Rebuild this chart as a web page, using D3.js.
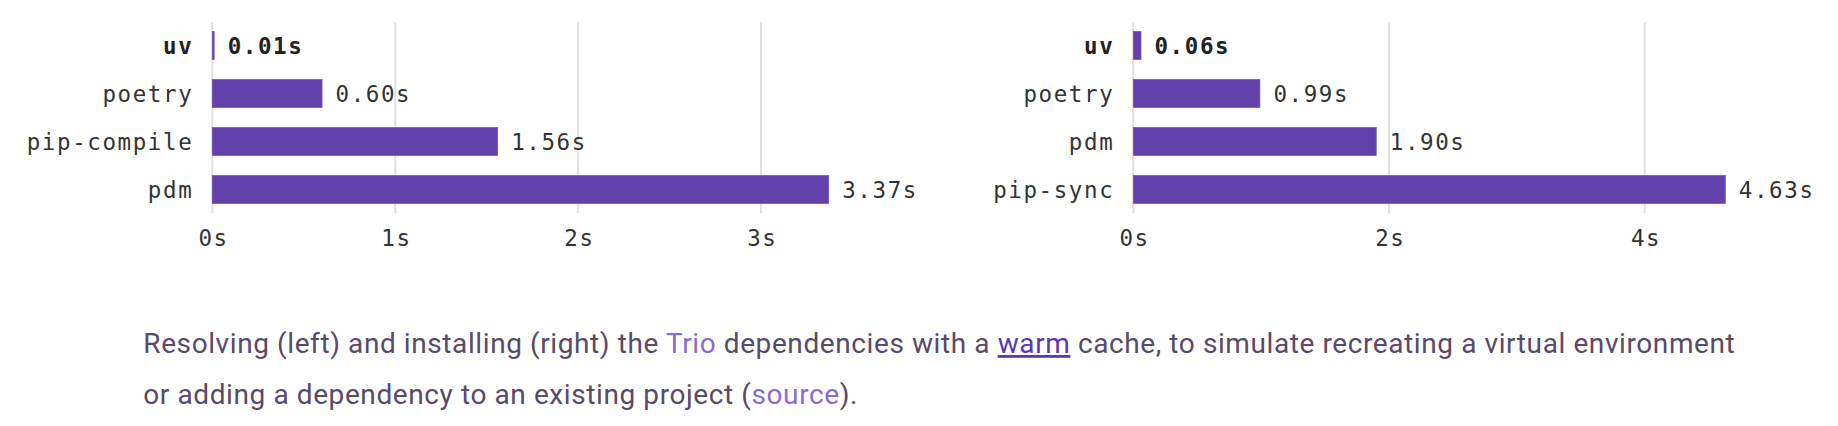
<!DOCTYPE html>
<html>
<head>
<meta charset="utf-8">
<script src="https://cdn.jsdelivr.net/npm/d3@7"></script>
<style>
  html, body { margin: 0; padding: 0; background: #fff; }
  svg { display: block; }
</style>
</head>
<body>
<svg id="chart" width="1838" height="426"></svg>
<script>
// ---- data ----
const leftCategories = ["uv", "poetry", "pip-compile", "pdm"];
const leftValues = [0.01, 0.60, 1.56, 3.37];
const leftTicks = [0, 1, 2, 3];

const rightCategories = ["uv", "poetry", "pdm", "pip-sync"];
const rightValues = [0.06, 0.99, 1.90, 4.63];
const rightTicks = [0, 2, 4];

const captionLine1 = [
  {t: "Resolving (left) and installing (right) the ", k: "plain"},
  {t: "Trio", k: "link"},
  {t: " dependencies with a ", k: "plain"},
  {t: "warm", k: "strong"},
  {t: " cache, to simulate recreating a virtual environment", k: "plain"}
];
const captionLine2 = [
  {t: "or adding a dependency to an existing project (", k: "plain"},
  {t: "source", k: "link"},
  {t: ").", k: "plain"}
];

// ---- styles ----
const barColor = "#6341ac";
const gridColor = "#e0e0e0";
const textColor = "#333333";
const monoFont = "'DejaVu Sans Mono', 'Liberation Mono', monospace";
const capColors = {plain: "#584a6a", link: "#8b6bcf", strong: "#5b37b3"};

const svg = d3.select("#chart");

function drawChart(cats, vals, ticks, x0, x1) {
  const g = svg.append("g");
  const x = d3.scaleLinear().domain([0, d3.max(vals)]).range([x0, x1]);
  const y = d3.scaleBand().domain(cats).range([22, 213]).paddingInner(0.42).paddingOuter(0.2);

  // gridlines
  g.selectAll("line.grid").data(ticks).join("line")
    .attr("x1", d => x(d)).attr("x2", d => x(d))
    .attr("y1", 22).attr("y2", 213)
    .attr("stroke", gridColor).attr("stroke-width", 2);

  // bars
  g.selectAll("rect.bar").data(cats).join("rect")
    .attr("x", x(0))
    .attr("y", d => y(d))
    .attr("width", (d, i) => x(vals[i]) - x(0))
    .attr("height", y.bandwidth())
    .attr("fill", barColor)
    .attr("stroke", "#7256bd").attr("stroke-width", 0.8);

  // category labels
  g.selectAll("text.cat").data(cats).join("text")
    .attr("x", x(0) - 19)
    .attr("y", d => y(d) + y.bandwidth() / 2)
    .attr("dy", "0.36em")
    .attr("text-anchor", "end")
    .style("font-family", monoFont)
    .style("font-size", "22.5px")
    .style("letter-spacing", "1.6px")
    .style("font-weight", d => d === "uv" ? "bold" : "normal")
    .attr("fill", d => d === "uv" ? "#222" : textColor)
    .text(d => d);

  // value labels
  g.selectAll("text.val").data(cats).join("text")
    .attr("x", (d, i) => x(vals[i]) + 13.5)
    .attr("y", d => y(d) + y.bandwidth() / 2)
    .attr("dy", "0.36em")
    .style("font-family", monoFont)
    .style("font-size", "22.5px")
    .style("letter-spacing", "1.6px")
    .style("font-weight", d => d === "uv" ? "bold" : "normal")
    .attr("fill", d => d === "uv" ? "#222" : textColor)
    .text((d, i) => vals[i].toFixed(2) + "s");

  // axis tick labels
  const axis = d3.axisBottom(x).tickValues(ticks).tickFormat(d => d + "s").tickSize(0).tickPadding(0);
  const ag = g.append("g").attr("transform", "translate(0,230)").call(axis);
  ag.select(".domain").remove();
  ag.selectAll("text")
    .attr("dx", "0.8")
    .attr("dy", "0.71em")
    .style("font-family", monoFont)
    .style("font-size", "22.5px")
    .style("letter-spacing", "1.6px")
    .attr("fill", textColor);
}

drawChart(leftCategories, leftValues, leftTicks, 212.3, 828.7);
drawChart(rightCategories, rightValues, rightTicks, 1133.3, 1725.3);

// ---- caption ----
function drawLine(parts, baseline) {
  const t = svg.append("text")
    .attr("x", 143.3).attr("y", baseline)
    .style("font-family", "Roboto, 'Open Sans', sans-serif")
    .style("font-size", "28px");
  t.selectAll("tspan").data(parts).join("tspan")
    .attr("fill", d => capColors[d.k])
    .style("font-weight", 400)
    .style("text-decoration", d => d.k === "strong" ? "underline" : "none")
    .text(d => d.t);
  return t;
}
const l1 = drawLine(captionLine1, 353);
const l2 = drawLine(captionLine2, 404);
// fit letter spacing to reference line width
const n1 = captionLine1.map(d => d.t).join("").length;
const w1 = l1.node().getComputedTextLength();
const ls = (1592 - w1) / n1;
l1.style("letter-spacing", ls + "px");
l2.style("letter-spacing", ls + "px");
</script>
</body>
</html>
